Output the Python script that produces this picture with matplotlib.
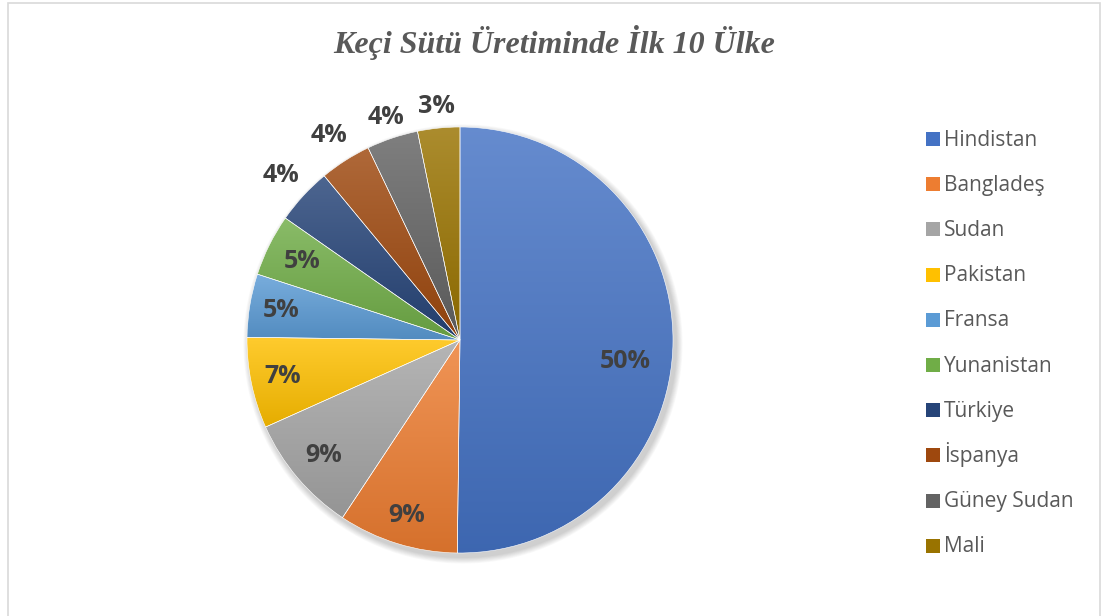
import numpy as np
import matplotlib
matplotlib.use("Agg")
import matplotlib.pyplot as plt
from matplotlib.patches import Rectangle, Circle
from matplotlib.colors import to_rgb

# ---- data ----
countries = ["Hindistan", "Bangladeş", "Sudan", "Pakistan", "Fransa",
             "Yunanistan", "Türkiye", "İspanya", "Güney Sudan", "Mali"]
shares = [50.2, 9.1, 9.0, 6.9, 4.8, 4.7, 4.3, 3.9, 3.9, 3.2]
title = "Keçi Sütü Üretiminde İlk 10 Ülke"

# ---- style ----
colors = ["#4472C4", "#ED7D31", "#A5A5A5", "#FFC000", "#5B9BD5",
          "#70AD47", "#264478", "#9E480E", "#636363", "#997300"]
label_dist = [0.78, 0.86, 0.84, 0.85, 0.85, 0.83, 1.14, 1.14, 1.10, 1.10]
label_angle_shift = [-7, 0, 0, 0, 0, 0, 0, 0, 0, 0]  # degrees

W, H = 1101, 616
fig = plt.figure(figsize=(W / 100, H / 100), dpi=100)
fig.patch.set_facecolor("white")

# chart frame
frame = Rectangle((8 / W, -0.01), (1100 - 8) / W, 1 - 3 / H + 0.01,
                  transform=fig.transFigure, fill=False,
                  edgecolor="#D9D9D9", linewidth=1.2)
fig.patches.append(frame)

# pie axes in pixel units
cx, cy, R = 460, 340, 213
half = 260
ax = fig.add_axes([(cx - half) / W, (H - cy - half) / H, 2 * half / W, 2 * half / H])
ax.set_xlim(-half, half)
ax.set_ylim(-half, half)
ax.set_aspect("auto")
ax.axis("off")

# soft shadow
for k in range(8):
    ax.add_patch(Circle((3, -4), R + 1 + k * 0.8, facecolor="#000000",
                        alpha=0.025, edgecolor="none", zorder=0))

wedges, _ = ax.pie(shares, colors=colors, startangle=90, counterclock=False,
                   radius=R, center=(0, 0), frame=False,
                   wedgeprops=dict(edgecolor="white", linewidth=0.4))


def shade(c, f):
    r = np.array(to_rgb(c))
    if f >= 0:
        return r + (1 - r) * f
    return r * (1 + f)


for w, c in zip(wedges, colors):
    w.set_zorder(1)
    th = np.radians(np.linspace(w.theta1, w.theta2, 200))
    ys = np.concatenate([[0], R * np.sin(th)])
    ymin, ymax = ys.min(), ys.max()
    top, bot = shade(c, 0.18), shade(c, -0.10)
    t = np.linspace(0, 1, 256)[:, None]
    grad = top[None, :] * (1 - t) + bot[None, :] * t
    grad = grad[:, None, :].repeat(2, axis=1)
    im = ax.imshow(grad, extent=[-R, R, ymin, ymax], origin="upper",
                   aspect="auto", zorder=2, interpolation="bilinear")
    im.set_clip_path(w)
    w.set_facecolor("none")
    w.set_zorder(3)

ax.set_xlim(-half, half)
ax.set_ylim(-half, half)

# data labels
total = sum(shares)
for w, v, d, s in zip(wedges, shares, label_dist, label_angle_shift):
    ang = np.radians((w.theta1 + w.theta2) / 2 + s)
    x, y = R * d * np.cos(ang), R * d * np.sin(ang)
    ax.text(x, y, f"{round(v / total * 100):.0f}%", ha="center", va="center",
            fontsize=18, fontweight="bold", color="#404040",
            family="Open Sans", zorder=5)

# title
fig.text(554 / W, 1 - 43 / H, title, ha="center", va="center",
         fontsize=23, fontweight="bold", fontstyle="italic",
         family="Liberation Serif", color="#595959")

# legend
for i, (name, c) in enumerate(zip(countries, colors)):
    base = 145.5 + 45.2 * i
    fig.patches.append(Rectangle((926 / W, 1 - (base + 0.5) / H), 14 / W, 14 / H,
                                 transform=fig.transFigure, facecolor=c,
                                 edgecolor="none"))
    fig.text(944 / W, 1 - base / H, name, ha="left", va="baseline",
             fontsize=15, family="Open Sans", color="#595959")

fig.savefig("out.png", dpi=100, facecolor="white")
